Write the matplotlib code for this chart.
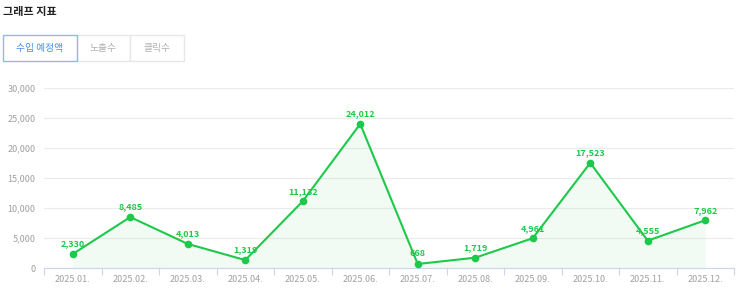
import matplotlib
matplotlib.use("Agg")
import matplotlib.pyplot as plt
from matplotlib.patches import Rectangle

plt.rcParams['font.family'] = ['Noto Sans CJK KR', 'DejaVu Sans']

# Data
months = ['2025.01.', '2025.02.', '2025.03.', '2025.04.', '2025.05.', '2025.06.',
          '2025.07.', '2025.08.', '2025.09.', '2025.10.', '2025.11.', '2025.12.']
values = [2330, 8485, 4013, 1319, 11132, 24012, 668, 1719, 4961, 17523, 4555, 7962]
y_ticks = [0, 5000, 10000, 15000, 20000, 25000, 30000]
tabs = ['수입 예정액', '노출수', '클릭수']

W, H = 743, 302
green = '#1dc94a'


def fx(px):
    return px / W


def fy(py):
    return 1 - py / H


fig = plt.figure(figsize=(W / 100, H / 100), dpi=100)

# Title
fig.text(fx(3), fy(11), '그래프 지표', fontsize=8, fontweight='bold', color='#222222',
         va='center', ha='left')

# Tab buttons
tab_x = [3, 77, 130, 184]
for i, label in enumerate(tabs):
    x0, x1 = tab_x[i], tab_x[i + 1]
    active = i == 0
    rect = Rectangle((fx(x0), fy(61)), fx(x1 - x0), (61 - 35) / H,
                     transform=fig.transFigure, facecolor='white',
                     edgecolor='#8dbaf2' if active else '#e8e8e8',
                     linewidth=1.0, zorder=3 if active else 2)
    fig.add_artist(rect)
    fig.text(fx((x0 + x1) / 2), fy(48), label, fontsize=7,
             color='#4a8fe8' if active else '#b0b0b0',
             fontweight='medium' if active else 'normal',
             ha='center', va='center')

# Chart area
ax = fig.add_axes([fx(44), fy(268), fx(734 - 44), (268 - 88) / H])
x = list(range(len(months)))
ax.fill_between(x, values, 0, color=green, alpha=0.06, linewidth=0)
ax.plot(x, values, color=green, linewidth=1.5, marker='o', markersize=4.5, zorder=4,
        clip_on=False)
for xi, v in zip(x, values):
    ax.annotate(f'{v:,}', (xi, v), xytext=(0, 4), textcoords='offset points',
                ha='center', va='bottom', fontsize=6.5, fontweight='bold', color=green)

ax.set_xlim(-0.5, len(months) - 0.5)
ax.set_ylim(0, 30000)
ax.set_yticks(y_ticks)
ax.set_yticklabels([f'{t:,}' for t in y_ticks])
ax.set_xticks(x)
ax.set_xticklabels(months)
ax.set_xticks([i - 0.5 for i in range(len(months) + 1)], minor=True)

ax.grid(axis='y', color='#ebebeb', linewidth=0.8)
ax.set_axisbelow(True)
for s in ['top', 'right', 'left']:
    ax.spines[s].set_visible(False)
ax.spines['bottom'].set_color('#ccd6eb')
ax.tick_params(axis='y', length=0, labelsize=6.5, labelcolor='#a0a0a0', pad=6)
ax.tick_params(axis='x', which='major', length=0, labelsize=6.5, labelcolor='#a0a0a0', pad=5)
ax.tick_params(axis='x', which='minor', length=5, color='#ccd6eb', width=0.8)

fig.savefig('out.png', dpi=100)
